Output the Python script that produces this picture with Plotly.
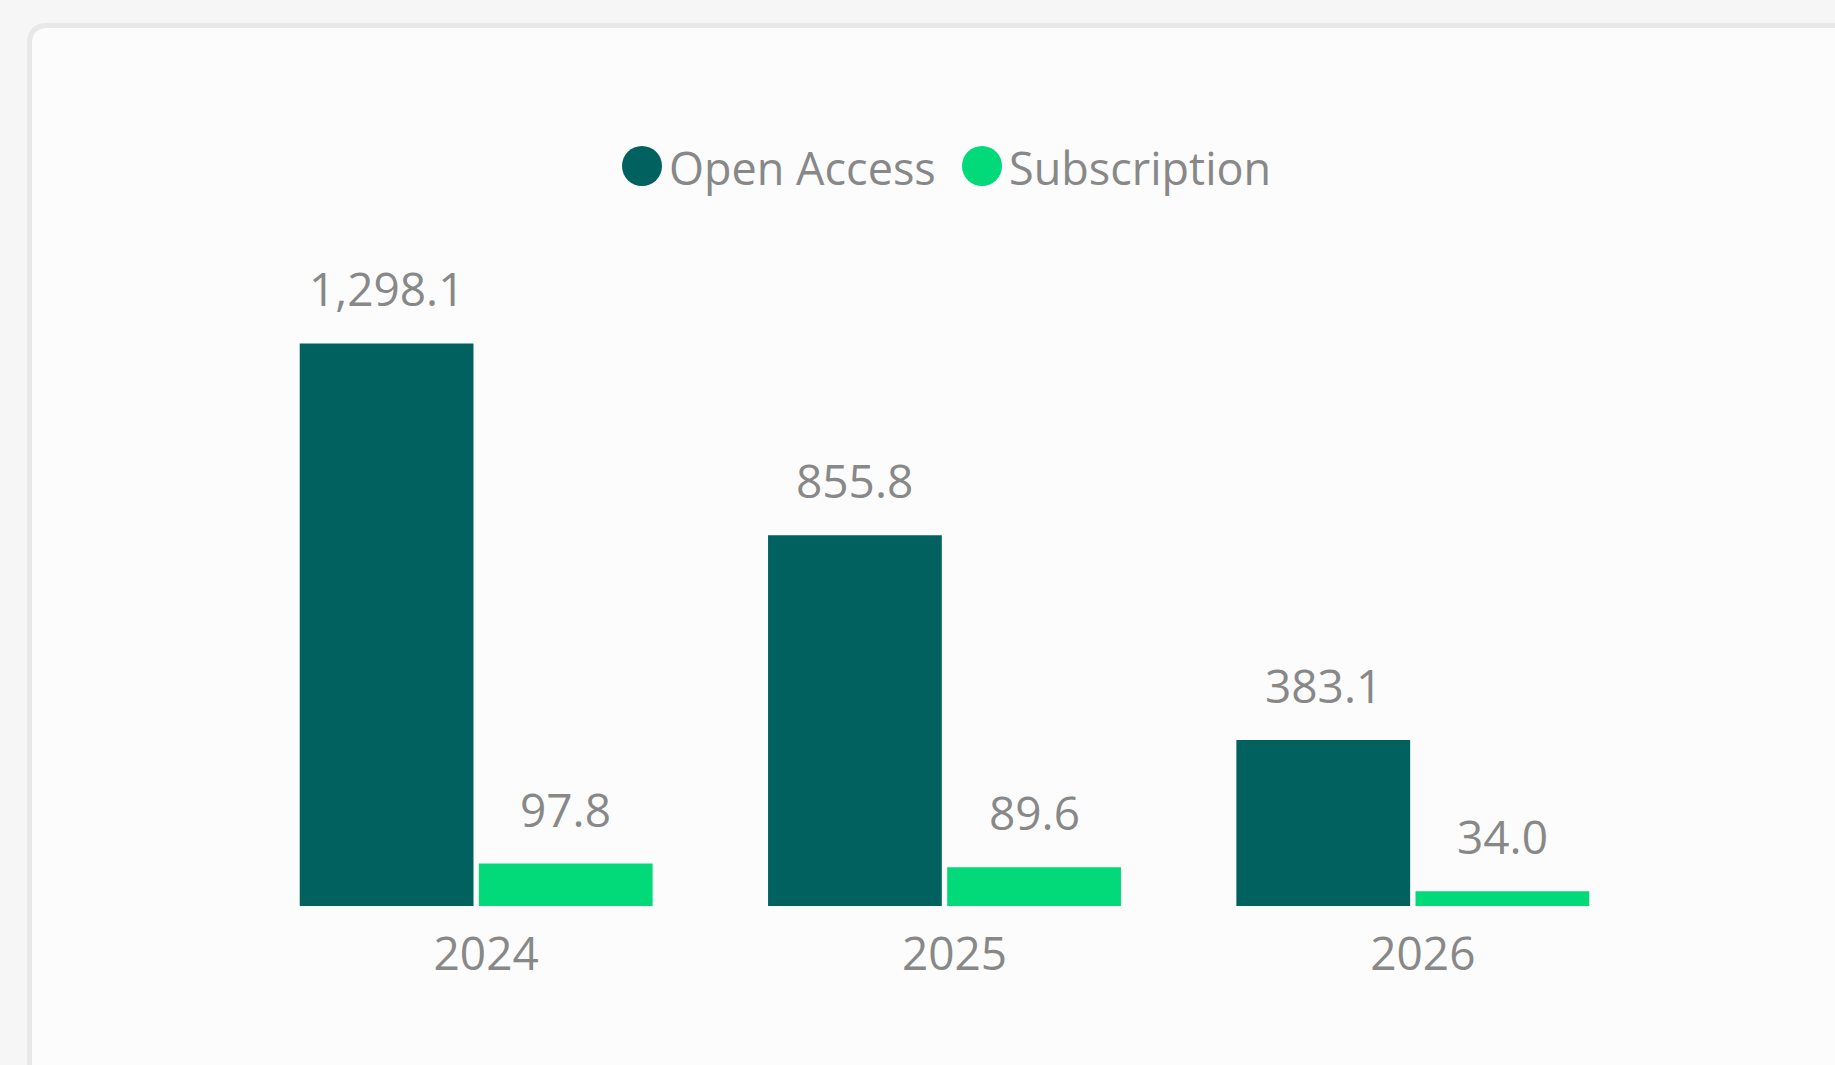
import plotly.graph_objects as go

# datos
years = ["2024", "2025", "2026"]
open_access = [1298.1, 855.8, 383.1]
subscription = [97.8, 89.6, 34.0]
series_names = ["Open Access", "Subscription"]
series_colors = ["#00615F", "#02D978"]

W_FIG, H_FIG = 1835, 1065
L, R, T, B = 242, 188, 230, 159
W = W_FIG - L - R
H = H_FIG - T - B
BARGAP = 0.235
TEXT = "#888888"
FONT = "Open Sans"


def px_x(x):
    return (x - L) / W


def px_y(y):
    return (H_FIG - B - y) / H


fig = go.Figure()
for name, vals, col in zip(series_names, [open_access, subscription], series_colors):
    fig.add_trace(go.Bar(x=years, y=vals, name=name, marker_color=col,
                         marker_line_width=0, showlegend=False, hoverinfo="x+y"))

# etiquetas de datos encima de cada barra
off = (1 - BARGAP) / 4
for k, vals in enumerate([open_access, subscription]):
    for i, v in enumerate(vals):
        fig.add_annotation(x=i + (-off if k == 0 else off), y=v, xref="x", yref="y",
                           text=f"{v:,.1f}", showarrow=False, yanchor="bottom",
                           yshift=22, font=dict(family=FONT, size=46, color=TEXT))

# tarjeta de fondo con esquina redondeada
x0, y0, r = 29.5, 25.5, 18
path = (f"M {x0 - L},{T - 1200} L {x0 - L},{T - y0 - r} "
        f"Q {x0 - L},{T - y0} {x0 + r - L},{T - y0} "
        f"L {2000 - L},{T - y0} L {2000 - L},{T - 1200} Z")
fig.add_shape(type="path", path=path, xref="paper", yref="paper",
              xsizemode="pixel", ysizemode="pixel", xanchor=0, yanchor=1,
              fillcolor="#FCFCFC", line=dict(color="#E8E8E8", width=5), layer="below")

# leyenda con circulos grandes
legend_pos = [(642, 670), (982, 1010)]
for (cx, tx), name, col in zip(legend_pos, series_names, series_colors):
    fig.add_shape(type="circle", xref="paper", yref="paper",
                  xsizemode="pixel", ysizemode="pixel",
                  xanchor=px_x(cx), yanchor=px_y(166),
                  x0=-20, x1=20, y0=-20, y1=20,
                  fillcolor=col, line_width=0)
    fig.add_annotation(x=px_x(tx - 3), y=px_y(167), xref="paper", yref="paper",
                       text=name, showarrow=False, xanchor="left", yanchor="middle",
                       font=dict(family=FONT, size=45, color=TEXT))

fig.update_layout(
    width=W_FIG, height=H_FIG,
    margin=dict(l=L, r=R, t=T, b=B),
    paper_bgcolor="#F6F6F6",
    plot_bgcolor="rgba(0,0,0,0)",
    barmode="group", bargap=BARGAP, bargroupgap=0.03,
    font=dict(family=FONT, color=TEXT),
    xaxis=dict(showgrid=False, showline=False, zeroline=False, ticks="",
               tickfont=dict(family=FONT, size=46, color=TEXT),
               ticklabelshift=10, ticklabelstandoff=17),
    yaxis=dict(visible=False, range=[0, 1560], showgrid=False, zeroline=False),
)

fig.write_html("out.html", config={"displayModeBar": False},
               post_script="document.body.style.margin='0';")
